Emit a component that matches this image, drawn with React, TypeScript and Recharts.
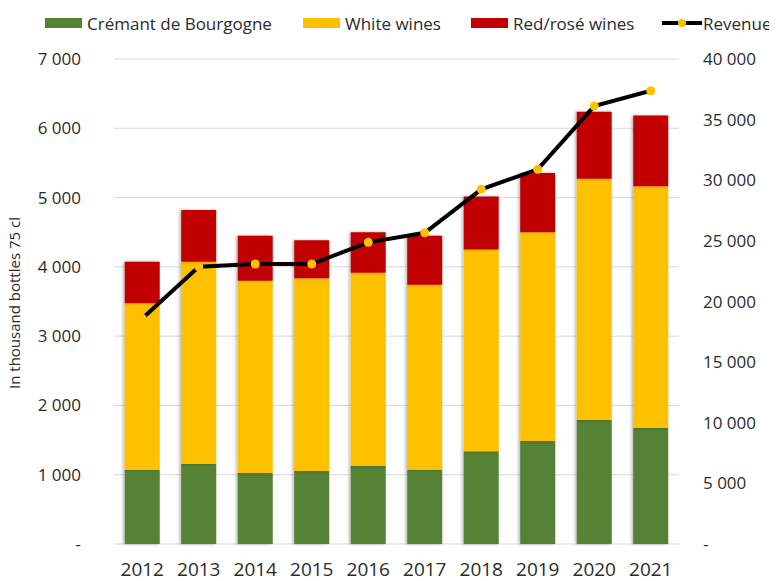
import React from 'react';
import { ComposedChart, Bar, Line, XAxis, YAxis, CartesianGrid, Legend, Label } from 'recharts';

const years = ['2012', '2013', '2014', '2015', '2016', '2017', '2018', '2019', '2020', '2021'];
const cremant = [1070, 1155, 1025, 1055, 1125, 1070, 1340, 1485, 1790, 1675];
const whiteWines = [2405, 2920, 2775, 2780, 2790, 2670, 2910, 3015, 3480, 3490];
const redRose = [600, 745, 650, 550, 585, 710, 765, 855, 970, 1020];
const revenue = [18600, 22870, 23090, 23090, 24880, 25670, 29250, 30900, 36120, 37380];
const leftTicks = [0, 1000, 2000, 3000, 4000, 5000, 6000, 7000];
const rightTicks = [0, 5000, 10000, 15000, 20000, 25000, 30000, 35000, 40000];

const data = years.map((year, i) => ({
  year,
  cremant: cremant[i],
  white: whiteWines[i],
  red: redRose[i],
  revenue: revenue[i],
}));

const FONT = '"Open Sans", "Noto Sans", sans-serif';
const TEXT = '#2b2b2b';
const GREEN = '#548235';
const YELLOW = '#FFC000';
const RED = '#C00000';

const fmt = (v: number) => (v === 0 ? '-' : String(v).replace(/\B(?=(\d{3})+(?!\d))/g, ' '));

const legendItems = [
  { label: 'Crémant de Bourgogne', color: GREEN, kind: 'bar', left: 37 },
  { label: 'White wines', color: YELLOW, kind: 'bar', left: 295 },
  { label: 'Red/rosé wines', color: RED, kind: 'bar', left: 463 },
  { label: 'Revenue', color: '#000', kind: 'line', left: 654 },
];

const renderLegend = () => (
  <div style={{ position: 'relative', width: 769, height: 30, fontFamily: FONT, fontSize: 17, color: TEXT }}>
    {legendItems.map((it) => (
      <div
        key={it.label}
        style={{ position: 'absolute', left: it.left, top: 0, height: 30, display: 'flex', alignItems: 'center', whiteSpace: 'nowrap' }}
      >
        {it.kind === 'bar' ? (
          <span style={{ display: 'inline-block', width: 37, height: 10, background: it.color, marginRight: 5 }} />
        ) : (
          <svg width={40} height={12} style={{ marginRight: 1 }}>
            <line x1={0} y1={6} x2={40} y2={6} stroke="#000" strokeWidth={4} />
            <circle cx={20} cy={6} r={4} fill={YELLOW} />
          </svg>
        )}
        <span>{it.label}</span>
      </div>
    ))}
  </div>
);

export default function App() {
  return (
    <div style={{ width: 769, height: 573, position: 'relative', fontFamily: FONT }}>
      <ComposedChart
        width={769}
        height={573}
        data={data}
        margin={{ top: 51, right: 0, bottom: 0, left: 0 }}
        barCategoryGap="19%"
        style={{ fontFamily: FONT }}
      >
        <defs>
          <filter id="barShadow" x="-20%" y="-5%" width="140%" height="110%">
            <feDropShadow dx={-1.5} dy={0} stdDeviation={1.5} floodColor="#000" floodOpacity={0.3} />
          </filter>
        </defs>
        <CartesianGrid yAxisId="left" vertical={false} stroke="#d9d9d9" strokeWidth={1} />
        <XAxis
          dataKey="year"
          height={37}
          axisLine={false}
          tickLine={false}
          tickSize={0}
          tickMargin={19}
          tick={{ fontSize: 19, fill: TEXT, fontFamily: FONT }}
          interval={0}
        />
        <YAxis
          yAxisId="left"
          width={106}
          domain={[0, 7000]}
          ticks={leftTicks}
          tickFormatter={fmt}
          axisLine={false}
          tickLine={false}
          tickSize={0}
          tickMargin={33}
          tick={{ fontSize: 17, fill: TEXT, fontFamily: FONT }}
        >
          <Label
            content={() => (
              <text
                x={6}
                y={295}
                transform="rotate(-90 6 295)"
                textAnchor="middle"
                dominantBaseline="central"
                fontSize={15}
                fill={TEXT}
                fontFamily={FONT}
              >
                In thousand bottles 75 cl
              </text>
            )}
          />
        </YAxis>
        <YAxis
          yAxisId="right"
          orientation="right"
          width={98}
          domain={[0, 40000]}
          ticks={rightTicks}
          tickFormatter={fmt}
          axisLine={false}
          tickLine={false}
          tickSize={0}
          tickMargin={24}
          tick={{ fontSize: 17, fill: TEXT, fontFamily: FONT, textAnchor: 'start' }}
        >
          <Label
            content={() => (
              <text
                x={770}
                y={303}
                transform="rotate(-90 770 303)"
                textAnchor="middle"
                dominantBaseline="central"
                fontSize={15}
                fill={TEXT}
                fontFamily={FONT}
              >
                In thousand euros
              </text>
            )}
          />
        </YAxis>
        <Legend
          layout="horizontal"
          verticalAlign="middle"
          align="center"
          content={renderLegend}
          wrapperStyle={{ top: 0, left: 0, width: 769, height: 30 }}
        />
        <Bar yAxisId="left" dataKey="cremant" name="Crémant de Bourgogne" stackId="s" fill={GREEN} filter="url(#barShadow)" isAnimationActive={false} />
        <Bar yAxisId="left" dataKey="white" name="White wines" stackId="s" fill={YELLOW} filter="url(#barShadow)" isAnimationActive={false} />
        <Bar yAxisId="left" dataKey="red" name="Red/rosé wines" stackId="s" fill={RED} filter="url(#barShadow)" isAnimationActive={false} />
        <Line
          yAxisId="right"
          dataKey="revenue"
          name="Revenue"
          stroke="#000"
          strokeWidth={4}
          dot={{ r: 4.5, fill: YELLOW, stroke: YELLOW, strokeWidth: 0 }}
          activeDot={false}
          isAnimationActive={false}
        />
      </ComposedChart>
    </div>
  );
}
